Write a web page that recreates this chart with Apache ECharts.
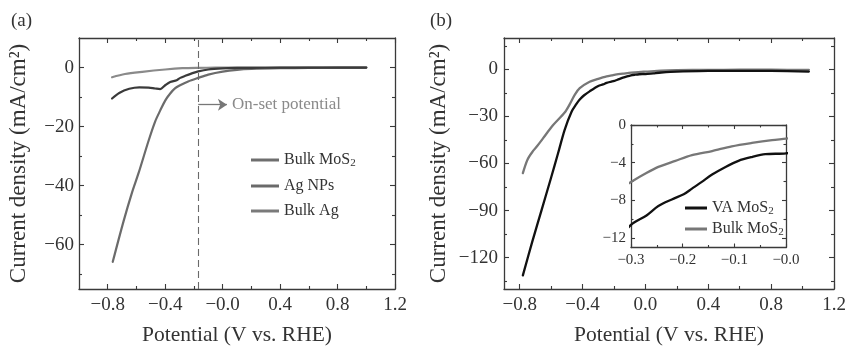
<!DOCTYPE html>
<html>
<head>
<meta charset="utf-8">
<script src="https://cdn.jsdelivr.net/npm/echarts@6/dist/echarts.min.js"></script>
<style>
  html, body { margin: 0; padding: 0; background: #fff; }
  #chart { width: 849px; height: 351px; }
</style>
</head>
<body>
<div id="chart"></div>
<script>
// ---------- Panel (a): polarization curves ----------
const aBulkMoS2X = [-0.765, -0.69, -0.63, -0.585, -0.515, -0.47, -0.435, -0.40, -0.365, -0.33, -0.30, -0.24, -0.17, -0.10, 0.0, 0.1, 0.2, 0.4, 0.6, 0.8, 1.0];
const aBulkMoS2Y = [-65.8, -52.1, -42.2, -35.7, -24.7, -18.3, -14.6, -11.2, -8.8, -7.0, -6.1, -4.7, -3.5, -2.4, -1.4, -0.8, -0.5, -0.25, -0.12, -0.05, 0];

const aAgNPsX = [-0.77, -0.72, -0.65, -0.58, -0.515, -0.47, -0.435, -0.40, -0.365, -0.32, -0.295, -0.26, -0.21, -0.17, -0.10, 0.0, 0.1, 0.2, 0.4, 0.6, 0.8, 1.0];
const aAgNPsY = [-10.5, -8.6, -7.2, -6.7, -6.8, -7.1, -7.3, -6.0, -4.9, -4.3, -3.5, -2.8, -1.9, -1.3, -0.66, -0.3, -0.15, -0.1, -0.05, -0.03, -0.02, 0];

const aBulkAgX = [-0.77, -0.68, -0.56, -0.40, -0.28, -0.17, -0.05, 0.1, 0.4, 0.7, 1.0];
const aBulkAgY = [-3.3, -2.2, -1.45, -0.66, -0.23, -0.1, -0.05, -0.02, 0, 0, 0];

const onsetPotential = -0.17;   // dashed marker
const onsetArrowY = -12.6;      // arrow height
const onsetArrowEndX = 0.03;

const aXMajor = [-0.8, -0.4, 0, 0.4, 0.8, 1.2];
const aXMinor = [-0.6, -0.2, 0.2, 0.6, 1.0];
const aXLabels = ['\u22120.8', '\u22120.4', '\u22120.0', '0.4', '0.8', '1.2'];
const aYMajor = [0, -20, -40, -60];
const aYMinor = [-10, -30, -50, -70];
const aYLabels = ['0', '\u221220', '\u221240', '\u221260'];

// ---------- Panel (b): polarization curves ----------
const bVAMoS2X = [-0.78, -0.72, -0.66, -0.60, -0.556, -0.514, -0.47, -0.44, -0.418, -0.39, -0.355, -0.30, -0.27, -0.247, -0.221, -0.198, -0.182, -0.163, -0.143, -0.117, -0.092, -0.066, -0.04, 0.0, 0.05, 0.1, 0.2, 0.4, 0.6, 0.8, 1.04];
const bVAMoS2Y = [-131.3, -109.8, -89.4, -68.9, -53.5, -38.5, -27.0, -22.2, -19.2, -16.5, -14.0, -10.6, -9.6, -8.6, -7.9, -7.35, -6.75, -6.04, -5.26, -4.45, -3.8, -3.4, -3.1, -3.0, -2.5, -2.0, -1.4, -1.0, -0.9, -1.0, -1.4];

const bBulkMoS2X = [-0.78, -0.75, -0.715, -0.69, -0.652, -0.59, -0.514, -0.482, -0.45, -0.418, -0.355, -0.30, -0.272, -0.247, -0.214, -0.182, -0.143, -0.105, -0.066, -0.027, 0.0, 0.1, 0.2, 0.4, 0.6, 0.8, 1.04];
const bBulkMoS2Y = [-66.1, -57.4, -52.0, -49.0, -44.0, -35.8, -27.5, -22.3, -16.2, -12.0, -7.9, -6.04, -5.15, -4.45, -3.8, -3.2, -2.76, -2.26, -1.9, -1.6, -1.45, -0.8, -0.5, -0.3, -0.25, -0.25, -0.3];

const bXMajor = [-0.8, -0.4, 0, 0.4, 0.8, 1.2];
const bXMinor = [-0.6, -0.2, 0.2, 0.6, 1.0];
const bXLabels = ['\u22120.8', '\u22120.4', '0.0', '0.4', '0.8', '1.2'];
const bYMajor = [0, -30, -60, -90, -120];
const bYMinor = [15, -15, -45, -75, -105, -135];
const bYLabels = ['0', '\u221230', '\u221260', '\u221290', '\u2212120'];

// ---------- Inset of (b) ----------
const iXMajor = [-0.3, -0.2, -0.1, 0];
const iXMinor = [-0.25, -0.15, -0.05];
const iXLabels = ['\u22120.3', '\u22120.2', '\u22120.1', '\u22120.0'];
const iYMajor = [0, -4, -8, -12];
const iYMinor = [-2, -6, -10];
const iYLabels = ['0', '\u22124', '\u22128', '\u221212'];

const FONT = 'Liberation Serif';
const AXIS = '#3a3a3a';
const TEXT = '#333333';

function pairs(xs, ys) { return xs.map((x, i) => [x, ys[i]]); }

function lookup(ticks, labels) {
  return v => {
    const i = ticks.findIndex(t => Math.abs(t - v) < 1e-9);
    return i >= 0 ? labels[i] : '';
  };
}

// builds main + minor axes for both sides of one dimension of a grid
function axisGroup(dim, g, min, max, major, minor, labels, o) {
  const primary = dim === 'x' ? 'bottom' : 'left';
  const mirror = dim === 'x' ? 'top' : 'right';
  const base = { type: 'value', gridIndex: g, min: min, max: max, splitLine: { show: false }, scale: false };
  const line = { show: true, onZero: false, lineStyle: { color: AXIS, width: 1.3 } };
  const tickStyle = { color: AXIS, width: 1.1 };
  const hiddenLine = { show: false, onZero: false };
  const main = Object.assign({}, base, {
    position: primary,
    axisLine: line,
    axisTick: { show: true, inside: true, length: o.majorLen, customValues: major, lineStyle: tickStyle },
    axisLabel: {
      show: true, customValues: major, formatter: lookup(major, labels),
      margin: o.margin, color: TEXT, fontFamily: FONT, fontSize: o.fontSize
    }
  });
  if (o.name) {
    Object.assign(main, {
      name: o.name, nameLocation: 'middle', nameGap: o.nameGap,
      nameTextStyle: { fontFamily: FONT, fontSize: o.nameSize, color: TEXT }
    });
  }
  const mainMinor = Object.assign({}, base, {
    position: primary, axisLine: hiddenLine,
    axisTick: { show: true, inside: true, length: o.minorLen, customValues: minor, lineStyle: tickStyle },
    axisLabel: { show: false }
  });
  const mir = Object.assign({}, base, {
    position: mirror, axisLine: line,
    axisTick: { show: true, inside: true, length: o.majorLen, customValues: major, lineStyle: tickStyle },
    axisLabel: { show: false }
  });
  const mirMinor = Object.assign({}, base, {
    position: mirror, axisLine: hiddenLine,
    axisTick: { show: true, inside: true, length: o.minorLen, customValues: minor, lineStyle: tickStyle },
    axisLabel: { show: false }
  });
  return [main, mainMinor, mir, mirMinor];
}

const yTitle = 'Current density (mA/cm\u00B2)';
const xTitle = 'Potential (V vs. RHE)';

const xAxes = [].concat(
  axisGroup('x', 0, -1.0, 1.2, aXMajor, aXMinor, aXLabels,
    { majorLen: 5, minorLen: 3, margin: 7, fontSize: 19, name: xTitle, nameGap: 35, nameSize: 21.5 }),
  axisGroup('x', 1, -0.9, 1.2, bXMajor, bXMinor, bXLabels,
    { majorLen: 5, minorLen: 3, margin: 7, fontSize: 19, name: xTitle, nameGap: 35, nameSize: 21.5 }),
  axisGroup('x', 2, -0.3, 0.0, iXMajor, iXMinor, iXLabels,
    { majorLen: 4, minorLen: 2.5, margin: 5, fontSize: 15 })
);
const yAxes = [].concat(
  axisGroup('y', 0, -75, 10, aYMajor, aYMinor, aYLabels,
    { majorLen: 5, minorLen: 3, margin: 5, fontSize: 19, name: yTitle, nameGap: 49, nameSize: 23 }),
  axisGroup('y', 1, -140, 20, bYMajor, bYMinor, bYLabels,
    { majorLen: 5, minorLen: 3, margin: 6, fontSize: 19, name: yTitle, nameGap: 54, nameSize: 23 }),
  axisGroup('y', 2, -13, 0, iYMajor, iYMinor, iYLabels,
    { majorLen: 4, minorLen: 2.5, margin: 5, fontSize: 15 })
);

function curve(name, xs, ys, color, xi, yi, width) {
  return {
    type: 'line', name: name, xAxisIndex: xi, yAxisIndex: yi,
    data: pairs(xs, ys), showSymbol: false, smooth: 0.3,
    lineStyle: { color: color, width: width, join: 'round', cap: 'round' }, itemStyle: { color: color },
    clip: true, silent: true, z: 3
  };
}

const legendText = {
  fontFamily: FONT, color: TEXT,
  rich: { sub: { fontFamily: FONT, fontSize: 11, color: TEXT, padding: [7, 0, 0, 0] } }
};
const subFormatter = n => n.replace('MoS2', 'MoS{sub|2}');

const option = {
  animation: false,
  backgroundColor: '#ffffff',
  title: [
    { text: '(a)', left: 6, top: 7, textStyle: { fontFamily: FONT, fontSize: 19, fontWeight: 'normal', color: TEXT } },
    { text: '(b)', left: 425, top: 7, textStyle: { fontFamily: FONT, fontSize: 19, fontWeight: 'normal', color: TEXT } }
  ],
  grid: [
    { left: 79, top: 38, width: 316, height: 258 },
    { left: 504, top: 38, width: 330, height: 258.5 },
    { left: 631, top: 125, width: 155, height: 122.5 }
  ],
  xAxis: xAxes,
  yAxis: yAxes,
  legend: [
    {
      orient: 'vertical', left: 246, top: 147, icon: 'rect', itemWidth: 28, itemHeight: 3, itemGap: 9,
      selectedMode: false,
      data: [
        { name: 'Bulk MoS2', itemStyle: { color: '#6e6e6e' } },
        { name: 'Ag NPs', itemStyle: { color: '#6a6a6a' } },
        { name: 'Bulk Ag', itemStyle: { color: '#7a7a7a' } }
      ],
      formatter: subFormatter,
      textStyle: Object.assign({ fontSize: 16 }, legendText)
    },
    {
      orient: 'vertical', left: 680, top: 195, icon: 'rect', itemWidth: 22, itemHeight: 3, itemGap: 4,
      selectedMode: false,
      data: [
        { name: 'VA MoS2', itemStyle: { color: '#111111' } },
        { name: 'Bulk MoS2', itemStyle: { color: '#777777' } }
      ],
      formatter: subFormatter,
      textStyle: Object.assign({ fontSize: 16 }, legendText)
    }
  ],
  series: [
    curve('Bulk Ag', aBulkAgX, aBulkAgY, '#8a8a8a', 0, 0, 2.2),
    curve('Bulk MoS2', aBulkMoS2X, aBulkMoS2Y, '#6b6b6b', 0, 0, 2.2),
    curve('Ag NPs', aAgNPsX, aAgNPsY, '#3a3a3a', 0, 0, 2.2),
    {
      // vertical dashed marker at the on-set potential
      type: 'line', name: 'onset-marker', xAxisIndex: 0, yAxisIndex: 0, data: [], silent: true,
      markLine: {
        silent: true, animation: false, symbol: ['none', 'none'],
        label: { show: false },
        lineStyle: { color: '#6a6a6a', width: 1.1, type: [7, 4] },
        data: [{ xAxis: onsetPotential }]
      }
    },
    {
      // arrow pointing to the annotation text
      type: 'line', name: 'onset-arrow', xAxisIndex: 0, yAxisIndex: 0, data: [], silent: true,
      markLine: {
        silent: true, animation: false, symbol: ['none', 'arrow'], symbolSize: 9,
        lineStyle: { color: '#777777', width: 1.3, type: 'solid' },
        label: {
          show: true, position: 'end', distance: 5, formatter: 'On-set potential',
          fontFamily: FONT, fontSize: 17, color: '#8a8a8a'
        },
        data: [[
          { coord: [onsetPotential, onsetArrowY] },
          { coord: [onsetArrowEndX, onsetArrowY] }
        ]]
      }
    },
    curve('Bulk MoS2', bBulkMoS2X, bBulkMoS2Y, '#777777', 4, 4, 2.3),
    curve('VA MoS2', bVAMoS2X, bVAMoS2Y, '#111111', 4, 4, 2.3),
    curve('Bulk MoS2', bBulkMoS2X, bBulkMoS2Y, '#777777', 8, 8, 2.3),
    curve('VA MoS2', bVAMoS2X, bVAMoS2Y, '#111111', 8, 8, 2.3)
  ]
};

const chart = echarts.init(document.getElementById('chart'), null, { renderer: 'canvas' });
chart.setOption(option);
</script>
</body>
</html>
